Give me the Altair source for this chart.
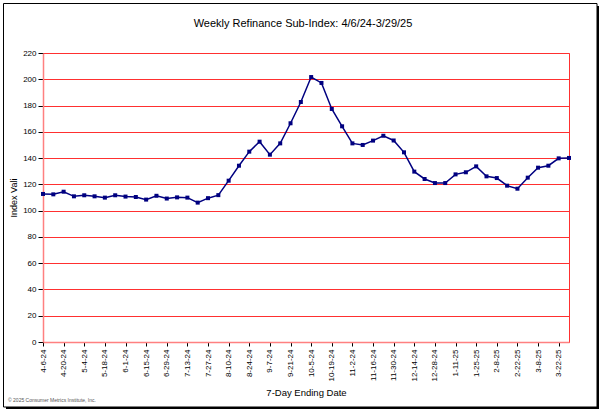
import altair as alt
import pandas as pd

dates = ["4-6-24", "4-13-24", "4-20-24", "4-27-24", "5-4-24", "5-11-24", "5-18-24", "5-25-24",
         "6-1-24", "6-8-24", "6-15-24", "6-22-24", "6-29-24", "7-6-24", "7-13-24", "7-20-24",
         "7-27-24", "8-3-24", "8-10-24", "8-17-24", "8-24-24", "8-31-24", "9-7-24", "9-14-24",
         "9-21-24", "9-28-24", "10-5-24", "10-12-24", "10-19-24", "10-26-24", "11-2-24", "11-9-24",
         "11-16-24", "11-23-24", "11-30-24", "12-7-24", "12-14-24", "12-21-24", "12-28-24",
         "1-4-25", "1-11-25", "1-18-25", "1-25-25", "2-1-25", "2-8-25", "2-15-25", "2-22-25",
         "3-1-25", "3-8-25", "3-15-25", "3-22-25", "3-29-25"]

values = [112.7, 112.4, 114.4, 110.9, 111.7, 110.9, 109.9, 111.7, 110.7, 110.4,
          108.4, 111.3, 109.2, 110.1, 109.9, 106.1, 109.5, 111.8, 122.8, 134.2,
          144.9, 152.5, 142.6, 151.2, 166.5, 182.7, 201.7, 197.2, 177.4, 164.2,
          151.2, 150.0, 153.3, 157.0, 153.4, 144.4, 129.7, 124.1, 121.0, 121.0,
          127.6, 129.2, 133.7, 126.1, 124.8, 119.0, 116.7, 125.1, 132.7, 134.2,
          139.8, 140.1]

tick_labels = dates[::2]
y_ticks = list(range(0, 221, 20))

title_text = "Weekly Refinance Sub-Index: 4/6/24-3/29/25"
x_title = "7-Day Ending Date"
y_title = "Index Vali"
credit = "\u00a9 2025 Consumer Metrics Institute, Inc."

df = pd.DataFrame({"date": dates, "value": values})

FONT = "Liberation Sans"
NAVY = "#000080"

x_enc = alt.X("date:O", sort=None,
              scale=alt.Scale(type="point", padding=0),
              axis=alt.Axis(values=tick_labels, labelAngle=-90, labelFontSize=8,
                            labelFont=FONT, labelColor="black", labelPadding=3,
                            tickSize=4, tickColor="black", domainColor="#FF8080",
                            domainWidth=1.5, grid=False, title=x_title,
                            titleFont=FONT, titleFontSize=9.5, titleFontWeight="normal",
                            titleColor="black", titleY=50, titleBaseline="middle"))
y_enc = alt.Y("value:Q",
              scale=alt.Scale(domain=[0, 220], nice=False, zero=True),
              axis=alt.Axis(values=y_ticks, labelFontSize=8, labelFont=FONT,
                            labelColor="black", labelPadding=2, tickSize=5,
                            tickColor="black", domainColor="#FF8080", domainWidth=1.5,
                            grid=True, gridColor="#FF3030", gridWidth=1,
                            title=y_title, titleFont=FONT, titleFontSize=9,
                            titleFontWeight="normal", titleColor="black",
                            titleX=-30, titleBaseline="middle"))

base = alt.Chart(df)
line = base.mark_line(color=NAVY, strokeWidth=1.5).encode(x=x_enc, y=y_enc)
pts = base.mark_square(size=16, color=NAVY, opacity=1).encode(x=x_enc, y=y_enc)

one = pd.DataFrame({"a": [0]})
frame = alt.Chart(one).mark_rect(filled=False, stroke="black", strokeWidth=1).encode(
    x=alt.value(-39.5), x2=alt.value(554), y=alt.value(-49.5), y2=alt.value(354))
shadow_r = alt.Chart(one).mark_rule(color="black", strokeWidth=2).encode(
    x=alt.value(555), y=alt.value(-47), y2=alt.value(355))
shadow_b = alt.Chart(one).mark_rule(color="black", strokeWidth=2).encode(
    x=alt.value(-37), x2=alt.value(556), y=alt.value(355))
credit_txt = alt.Chart(pd.DataFrame({"t": [credit]})).mark_text(
    align="left", baseline="middle", fontSize=5, font=FONT, color="#555555").encode(
    text="t:N", x=alt.value(-35), y=alt.value(347))
title_txt = alt.Chart(pd.DataFrame({"t": [title_text]})).mark_text(
    align="center", baseline="middle", fontSize=11, font=FONT, color="black").encode(
    text="t:N", x=alt.value(260), y=alt.value(-29))

chart = alt.layer(frame, shadow_r, shadow_b, line, pts, credit_txt, title_txt).properties(
    width=526, height=289,
    autosize=alt.AutoSizeParams(type="none"),
    padding={"left": 43, "top": 53, "right": 33, "bottom": 69},
    background="white",
).configure_view(stroke="#FF3030", strokeWidth=1)

chart.save("out.html", embed_options={"renderer": "svg", "actions": False})
